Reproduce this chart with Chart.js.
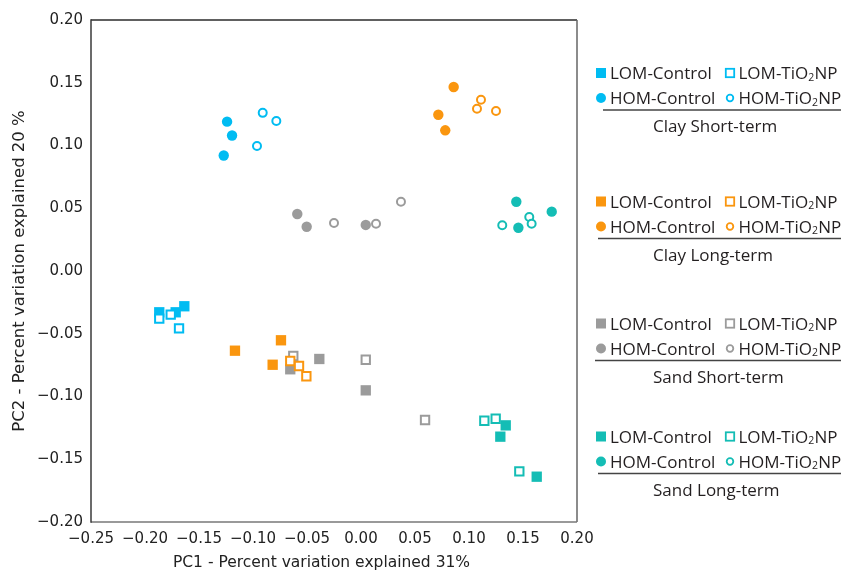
<!DOCTYPE html>
<html><head><meta charset="utf-8">
<script src="https://cdn.jsdelivr.net/npm/chart.js@4.4.1/dist/chart.umd.min.js"></script>
<style>html,body{margin:0;padding:0;background:#fff;}#wrap{width:841px;height:570px;position:relative;}</style>
</head><body><div id="wrap"><canvas id="c"></canvas></div>
<script>
// ---- tick labels & titles ----
const xTickValues = [-0.25,-0.20,-0.15,-0.10,-0.05,0.00,0.05,0.10,0.15,0.20];
const xTickLabels = ["−0.25","−0.20","−0.15","−0.10","−0.05","0.00","0.05","0.10","0.15","0.20"];
const yTickValues = [-0.20,-0.15,-0.10,-0.05,0.00,0.05,0.10,0.15,0.20];
const yTickLabels = ["−0.20","−0.15","−0.10","−0.05","0.00","0.05","0.10","0.15","0.20"];
const xAxisTitle = "PC1 - Percent variation explained 31%";
const yAxisTitle = "PC2 - Percent variation explained 20 %";
const groupNames = ["Clay Short-term","Clay Long-term","Sand Short-term","Sand Long-term"];
const treatmentNames = ["LOM-Control","LOM-TiO₂NP","HOM-Control","HOM-TiO₂NP"];

// ---- data [PC1, PC2] ----
const clayShort_LOM_Control = [[-0.1868,-0.0329],[-0.1716,-0.0329],[-0.1636,-0.0281]];
const clayShort_LOM_TiO2NP  = [[-0.1868,-0.0380],[-0.1762,-0.0348],[-0.1685,-0.0457]];
const clayShort_HOM_Control = [[-0.1240,0.1190],[-0.1194,0.1080],[-0.1271,0.0920]];
const clayShort_HOM_TiO2NP  = [[-0.0910,0.1260],[-0.0784,0.1195],[-0.0963,0.0996]];

const clayLong_LOM_Control = [[-0.1167,-0.0635],[-0.0741,-0.0552],[-0.0818,-0.0747]];
const clayLong_LOM_TiO2NP  = [[-0.0655,-0.0717],[-0.0574,-0.0757],[-0.0506,-0.0839]];
const clayLong_HOM_Control = [[0.0858,0.1466],[0.0716,0.1245],[0.0780,0.1121]];
const clayLong_HOM_TiO2NP  = [[0.1111,0.1365],[0.1074,0.1293],[0.1250,0.1275]];

const sandShort_LOM_Control = [[-0.0655,-0.0783],[-0.0386,-0.0701],[0.0044,-0.0951]];
const sandShort_LOM_TiO2NP  = [[-0.0627,-0.0677],[0.0044,-0.0707],[0.0593,-0.1187]];
const sandShort_HOM_Control = [[-0.0590,0.0454],[-0.0503,0.0353],[0.0044,0.0367]];
const sandShort_HOM_TiO2NP  = [[-0.0250,0.0382],[0.0139,0.0377],[0.0370,0.0552]];

const sandLong_LOM_Control = [[0.1340,-0.1230],[0.1290,-0.1320],[0.1627,-0.1639]];
const sandLong_LOM_TiO2NP  = [[0.1142,-0.1193],[0.1247,-0.1177],[0.1466,-0.1596]];
const sandLong_HOM_Control = [[0.1438,0.0552],[0.1766,0.0473],[0.1457,0.0345]];
const sandLong_HOM_TiO2NP  = [[0.1308,0.0364],[0.1558,0.0430],[0.1580,0.0377]];

const seriesByGroup = [
  [clayShort_LOM_Control, clayShort_LOM_TiO2NP, clayShort_HOM_Control, clayShort_HOM_TiO2NP],
  [clayLong_LOM_Control,  clayLong_LOM_TiO2NP,  clayLong_HOM_Control,  clayLong_HOM_TiO2NP],
  [sandShort_LOM_Control, sandShort_LOM_TiO2NP, sandShort_HOM_Control, sandShort_HOM_TiO2NP],
  [sandLong_LOM_Control,  sandLong_LOM_TiO2NP,  sandLong_HOM_Control,  sandLong_HOM_TiO2NP]
];

// ---- styles ----
const groupColors = ['#00BCF2','#FA960F','#9B9B9B','#14BDB5'];
const markerStyles = [
  {pointStyle:'rect',   radius:7.3, filled:true},
  {pointStyle:'rect',   radius:5.9, filled:false},
  {pointStyle:'circle', radius:5.2, filled:true},
  {pointStyle:'circle', radius:4.0, filled:false}
];
const groupDrawSeq = [0,3,2,1];      // bottom -> top
const treatDrawSeq = [0,2,1,3];      // filled first, open on top

const datasets = [];
let seq = 0;
groupDrawSeq.forEach(gi => {
  treatDrawSeq.forEach(ti => {
    const st = markerStyles[ti];
    const col = groupColors[gi];
    datasets.push({
      label: groupNames[gi] + ' ' + treatmentNames[ti],
      data: seriesByGroup[gi][ti].map(p => ({x:p[0], y:p[1]})),
      pointStyle: st.pointStyle,
      pointRadius: st.radius,
      pointHoverRadius: st.radius,
      backgroundColor: st.filled ? col : '#ffffff',
      borderColor: col,
      borderWidth: st.filled ? 0 : 2,
      order: -seq
    });
    seq++;
  });
});

// ---- plugin: frame, x title, legend ----
const LEG_FONT = '"Open Sans", "Noto Sans", sans-serif';
function drawRich(ctx, text, x, y) {
  const parts = text.split('₂');
  let cx = x;
  parts.forEach((p, i) => {
    ctx.font = '17px ' + LEG_FONT;
    ctx.fillText(p, cx, y);
    cx += ctx.measureText(p).width;
    if (i < parts.length - 1) {
      ctx.font = '10.5px ' + LEG_FONT;
      ctx.fillText('2', cx, y + 1.5);
      cx += ctx.measureText('2').width + 0.3;
    }
  });
}
function drawMarker(ctx, kind, x, y, color) {
  ctx.save();
  ctx.fillStyle = color; ctx.strokeStyle = color;
  if (kind === 0) { ctx.fillRect(x - 5, y - 5, 10, 10); }
  else if (kind === 1) { ctx.lineWidth = 1.8; ctx.fillStyle = '#fff'; ctx.fillRect(x-4.2,y-4.2,8.4,8.4); ctx.strokeRect(x-4.2,y-4.2,8.4,8.4); }
  else if (kind === 2) { ctx.beginPath(); ctx.arc(x, y, 5, 0, Math.PI*2); ctx.fill(); }
  else { ctx.lineWidth = 1.8; ctx.beginPath(); ctx.arc(x, y, 3.3, 0, Math.PI*2); ctx.stroke(); }
  ctx.restore();
}
const legendBaselines = [79, 207.5, 329.5, 442.5];
const legendLineStart = [603, 598, 595, 598];

const extras = {
  id: 'extras',
  afterDraw(chart) {
    const ctx = chart.ctx;
    const a = chart.chartArea;
    ctx.save();
    ctx.lineWidth = 1.5;
    const seg = (x1,y1,x2,y2,c) => { ctx.strokeStyle=c; ctx.beginPath(); ctx.moveTo(x1,y1); ctx.lineTo(x2,y2); ctx.stroke(); };
    seg(a.left, a.top, a.right, a.top, '#2b2b2b');
    seg(a.right, a.top, a.right, a.bottom, '#666');
    seg(a.left, a.bottom, a.right, a.bottom, '#777');
    seg(a.left, a.top - 0.75, a.left, a.bottom + 0.75, '#3a3a3a');
    // x axis title
    ctx.fillStyle = '#222';
    ctx.font = '15.5px "DejaVu Sans"';
    ctx.textAlign = 'center';
    ctx.textBaseline = 'alphabetic';
    ctx.fillText(xAxisTitle, 321.5, 567);
    // legend
    ctx.textAlign = 'left';
    ctx.fillStyle = '#231F20';
    groupNames.forEach((g, gi) => {
      const B = legendBaselines[gi];
      const col = groupColors[gi];
      const rows = [[0,1],[2,3]];
      rows.forEach((r, ri) => {
        const by = B + ri * 25;
        drawMarker(ctx, r[0], 601, by - 6, col);
        drawMarker(ctx, r[1], 730, by - 6, col);
        ctx.fillStyle = '#231F20';
        drawRich(ctx, treatmentNames[r[0]], 610, by);
        drawRich(ctx, treatmentNames[r[1]], 738.5, by);
      });
      ctx.strokeStyle = '#444'; ctx.lineWidth = 1.5;
      ctx.beginPath(); ctx.moveTo(legendLineStart[gi], B + 31); ctx.lineTo(841, B + 31); ctx.stroke();
      ctx.font = '17px ' + LEG_FONT;
      ctx.fillStyle = '#231F20';
      ctx.fillText(g, 653, B + 53);
    });
    ctx.restore();
  }
};

const tickFont = {family:'DejaVu Sans', size:15};
new Chart(document.getElementById('c'), {
  type: 'scatter',
  data: { datasets },
  options: {
    responsive: true,
    maintainAspectRatio: false,
    animation: false,
    events: [],
    layout: { padding: {left:0, top:20, right:264, bottom:0} },
    plugins: { legend: {display:false}, tooltip: {enabled:false} },
    scales: {
      x: {
        type: 'linear', min: -0.25, max: 0.20,
        grid: {display:false, drawTicks:false},
        border: {display:false},
        afterBuildTicks: s => { s.ticks = xTickValues.map(v => ({value:v})); },
        afterFit: s => { s.height = 48; },
        ticks: { autoSkip:false, maxRotation:0, padding:8, color:'#222', font:tickFont,
                 callback: (v, i) => xTickLabels[i] },
        title: {display:false, text:xAxisTitle}
      },
      y: {
        type: 'linear', min: -0.20, max: 0.20,
        grid: {display:false, drawTicks:false},
        border: {display:false},
        afterBuildTicks: s => { s.ticks = yTickValues.map(v => ({value:v})); },
        afterFit: s => { s.width = 91; },
        ticks: { autoSkip:false, padding:8, color:'#222', font:tickFont,
                 callback: (v, i) => yTickLabels[i] },
        title: {display:true, text:yAxisTitle, color:'#222',
                font:{family:'DejaVu Sans', size:16.5}, padding:{top:10, bottom:0}}
      }
    }
  },
  plugins: [extras]
});
</script>
</body></html>
